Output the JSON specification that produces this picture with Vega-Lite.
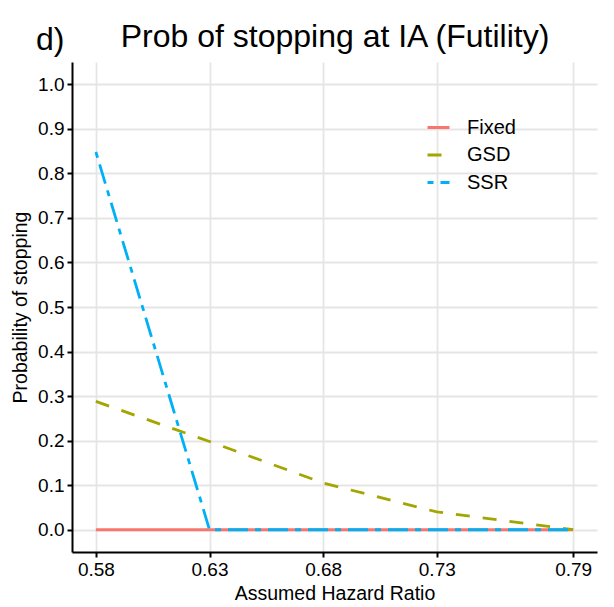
{
  "$schema": "https://vega.github.io/schema/vega-lite/v6.json",
  "width": 525,
  "height": 490,
  "autosize": {"type": "none"},
  "padding": {"left": 72, "top": 62, "right": 17, "bottom": 55},
  "background": "white",
  "title": {"text": "d)", "anchor": "start", "frame": "group", "dx": -36, "dy": 66, "fontSize": 32, "fontWeight": "normal", "color": "black", "baseline": "alphabetic"},
  "config": {
    "font": "Liberation Sans",
    "view": {"stroke": null},
    "axis": {"domainColor": "black", "domainWidth": 2, "tickColor": "black", "tickWidth": 2, "tickSize": 5, "labelColor": "black", "titleColor": "black", "titleFontWeight": "normal", "gridColor": "#E5E5E5", "gridWidth": 1.8},
    "legend": {"orient": "none", "legendX": 354, "legendY": 53, "padding": 0, "labelFontSize": 20, "labelColor": "black", "symbolType": "stroke", "symbolSize": 484, "symbolStrokeWidth": 3, "rowPadding": 4.5, "labelOffset": 16}
  },
  "data": {"values": [
    {"hr": 0.58, "prob": 0.0, "design": "Fixed"},
    {"hr": 0.63, "prob": 0.0, "design": "Fixed"},
    {"hr": 0.68, "prob": 0.0, "design": "Fixed"},
    {"hr": 0.73, "prob": 0.0, "design": "Fixed"},
    {"hr": 0.79, "prob": 0.0, "design": "Fixed"},
    {"hr": 0.58, "prob": 0.288, "design": "GSD"},
    {"hr": 0.63, "prob": 0.198, "design": "GSD"},
    {"hr": 0.68, "prob": 0.105, "design": "GSD"},
    {"hr": 0.73, "prob": 0.04, "design": "GSD"},
    {"hr": 0.79, "prob": 0.0, "design": "GSD"},
    {"hr": 0.58, "prob": 0.848, "design": "SSR"},
    {"hr": 0.63, "prob": 0.0, "design": "SSR"},
    {"hr": 0.68, "prob": 0.0, "design": "SSR"},
    {"hr": 0.73, "prob": 0.0, "design": "SSR"},
    {"hr": 0.79, "prob": 0.0, "design": "SSR"}
  ]},
  "resolve": {"axis": {"x": "independent"}},
  "layer": [
    {
      "mark": {"type": "line", "strokeWidth": 2.8, "strokeCap": "butt"},
      "encoding": {
        "x": {"field": "hr", "type": "quantitative", "scale": {"domain": [0.5695, 0.8005], "nice": false, "zero": false},
              "axis": {"orient": "bottom", "title": "Assumed Hazard Ratio", "values": [0.58, 0.63, 0.68, 0.73, 0.79], "format": ".2f", "labelFontSize": 19, "labelPadding": 3, "titleFontSize": 19.5, "titlePadding": 5}},
        "y": {"field": "prob", "type": "quantitative", "scale": {"domain": [-0.05, 1.05], "nice": false, "zero": false},
              "axis": {"title": "Probability of stopping", "values": [0, 0.1, 0.2, 0.3, 0.4, 0.5, 0.6, 0.7, 0.8, 0.9, 1.0], "format": ".1f", "labelFontSize": 19, "labelPadding": 3, "titleFontSize": 19.5, "titlePadding": 7}},
        "color": {"field": "design", "type": "nominal", "scale": {"domain": ["Fixed", "GSD", "SSR"], "range": ["#F8766D", "#A3A500", "#00B0F6"]}, "legend": {"title": null}},
        "strokeDash": {"field": "design", "type": "nominal", "scale": {"domain": ["Fixed", "GSD", "SSR"], "range": [[1, 0], [14, 13], [6, 7, 20, 7]]}, "legend": {"title": null}}
      }
    },
    {
      "mark": {"type": "point", "opacity": 0},
      "encoding": {
        "x": {"field": "hr", "type": "quantitative", "scale": {"domain": [0.5695, 0.8005], "nice": false, "zero": false},
              "axis": {"orient": "top", "title": "Prob of stopping at IA (Futility)", "labels": false, "ticks": false, "domain": false, "grid": false, "titleFontSize": 32, "titlePadding": 16, "titleBaseline": "alphabetic"}}
      }
    }
  ]
}
